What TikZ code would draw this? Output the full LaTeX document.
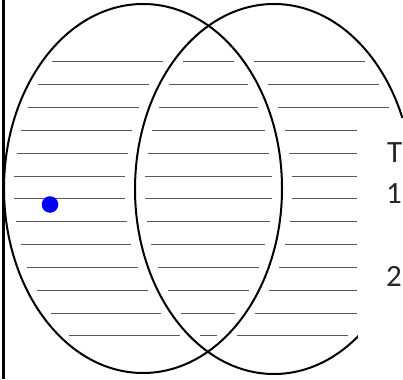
\documentclass[tikz,border=0pt]{standalone}
\usepackage{fontspec}
\setmainfont{Carlito}
\begin{document}
\begin{tikzpicture}[x=1pt,y=-1pt,
  outline/.style={draw=black,line width=2pt},
  hatch/.style={draw=black!65,line width=1pt},
  label/.style={anchor=base west,inner sep=0pt,font=\fontsize{31}{31}\selectfont,text=black!85}]
\useasboundingbox (0,0) rectangle (403,379);
\fill[white] (0,0) rectangle (403,379);
% hatching
\foreach \i in {0,...,12}{
  \pgfmathsetmacro\yy{62+22.833*\i}
  \pgfmathsetmacro\tl{(\yy-188.5)/184.5}
  \pgfmathsetmacro\tr{(\yy-189)/185}
  \pgfmathsetmacro\hL{139*sqrt(1-\tl*\tl)}
  \pgfmathsetmacro\hR{139*sqrt(1-\tr*\tr)}
  \pgfmathsetmacro\aL{143-\hL+10}
  \pgfmathsetmacro\aR{274-\hR-10}
  \pgfmathsetmacro\bL{274-\hR+10}
  \pgfmathsetmacro\bR{143+\hL-10}
  \pgfmathsetmacro\cL{143+\hL+10}
  \pgfmathsetmacro\cmax{\yy>120 ? 357 : 999}
  \pgfmathsetmacro\cR{min(274+\hR-10,\cmax)}
  \draw[hatch] (\aL,\yy) -- (\aR,\yy);
  \draw[hatch] (\bL,\yy) -- (\bR,\yy);
  \draw[hatch] (\cL,\yy) -- (\cR,\yy);
}
% ellipses
\draw[outline] (143,188.5) ellipse [x radius=139, y radius=184.5];
\draw[outline] (274,189) ellipse [x radius=139, y radius=185];
% white panel at right
\fill[white] (357.5,118) rectangle (403,379);
% left border
\draw[black,line width=3pt] (3,0) -- (3,379);
% dot
\fill[blue] (50,204.5) circle [radius=8.3];
% texts
\node[label] (t) at (387,163) {T};
\node[label] (one) at (386,203) {1};
\node[label] (two) at (386,286) {2};
\end{tikzpicture}
\end{document}
